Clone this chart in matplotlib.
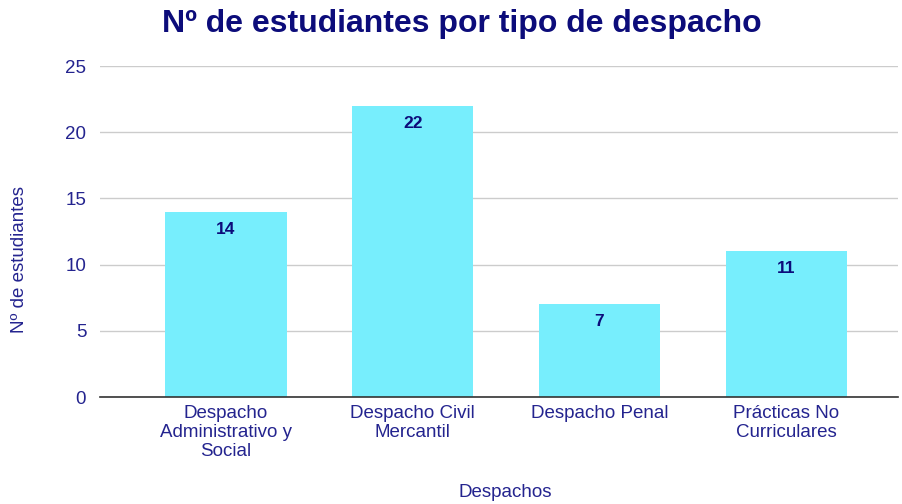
import matplotlib
matplotlib.use("Agg")
from matplotlib import pyplot as plt

categories = ["Despacho\nAdministrativo y\nSocial", "Despacho Civil\nMercantil",
              "Despacho Penal", "Prácticas No\nCurriculares"]
values = [14, 22, 7, 11]
y_ticks = [0, 5, 10, 15, 20, 25]

plt.rcParams["font.family"] = ["Liberation Sans", "DejaVu Sans"]
navy = "#0c0c7a"
text_blue = "#24248f"
bar_color = "#77eefd"

fig = plt.figure(figsize=(9.02, 5.04), dpi=100)
ax = fig.add_axes([0.111, 0.212, 0.885, 0.657])

x = list(range(len(categories)))
bars = ax.bar(x, values, width=0.65, color=bar_color, zorder=2)
for b, v in zip(bars, values):
    ax.text(b.get_x() + b.get_width() / 2, v - 0.75, str(v), ha="center", va="top",
            fontsize=12.5, fontweight="bold", color=navy, zorder=3)

ax.set_xlim(-0.674, 3.60)
ax.set_ylim(0, 25)
ax.set_yticks(y_ticks)
ax.set_xticks(x)
ax.set_xticklabels(categories, fontsize=13.5, color=text_blue, linespacing=1.12)
ax.tick_params(axis="y", labelsize=13.5, labelcolor=text_blue, length=0, pad=10)
ax.tick_params(axis="x", length=0, pad=6)
ax.grid(axis="y", color="#cccccc", linewidth=1, zorder=0)
for side in ["top", "right", "left"]:
    ax.spines[side].set_visible(False)
ax.spines["bottom"].set_color("#333333")
ax.spines["bottom"].set_linewidth(1.2)
ax.spines["bottom"].set_zorder(4)

fig.text(0.022, 0.486, "Nº de estudiantes", fontsize=13.5, color=text_blue,
         rotation=90, ha="center", va="center")
fig.text(0.56, 0.022, "Despachos", fontsize=13.5, color=text_blue, ha="center", va="center")
fig.text(0.512, 0.952, "Nº de estudiantes por tipo de despacho", fontsize=23,
         fontweight="bold", color=navy, ha="center", va="center")

fig.savefig("out.png", dpi=100)
